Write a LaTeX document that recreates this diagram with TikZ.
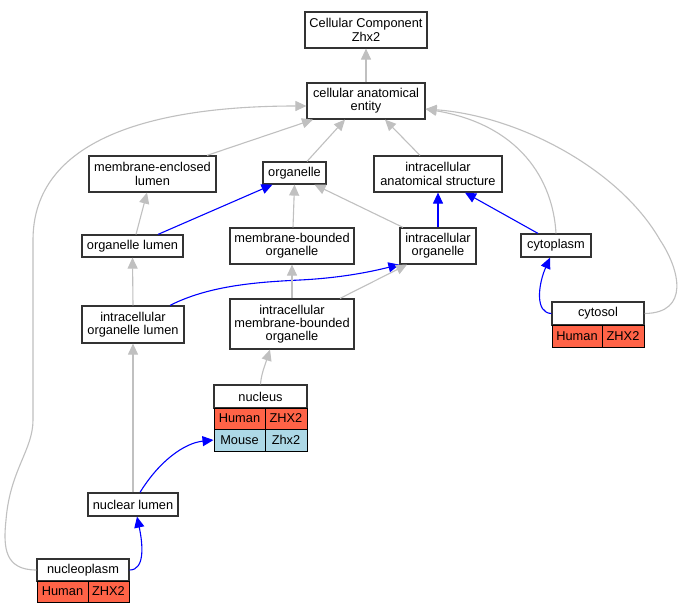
\documentclass[tikz,border=0pt]{standalone}
\usepackage{fontspec}
\setmainfont{Liberation Sans}
\usetikzlibrary{arrows.meta,calc}
\definecolor{eg}{HTML}{C0C0C0}
\definecolor{eb}{HTML}{0000FF}
\definecolor{hum}{HTML}{FF6347}
\definecolor{mou}{HTML}{ADD8E6}
\newcommand\gofont{\fontsize{12.8}{13.3}\selectfont}
\begin{document}
\begin{tikzpicture}[x=1pt,y=-1pt,
  box/.style={draw=black!80,line width=1.2pt,fill=white,inner sep=0pt,align=center,font=\gofont},
  cell/.style={draw=black,line width=1pt,inner sep=0pt,font=\gofont},
  g/.style={draw=eg,line width=1.1pt,-{Triangle[length=11pt,width=10pt]}},
  b/.style={draw=eb,line width=1.1pt,-{Triangle[length=11pt,width=10pt]}}]
\useasboundingbox[fill=white] (0,0) rectangle (682,613);
% nodes
\node[box,minimum width=122pt,minimum height=36pt] (ccz) at (366,30) {Cellular Component\\Zhx2};
\node[box,minimum width=118pt,minimum height=36pt] (cae) at (366,101) {cellular anatomical\\entity};
\node[box,minimum width=127pt,minimum height=36pt] (mel) at (152.5,174) {membrane-enclosed\\lumen};
\node[box,minimum width=63pt,minimum height=22pt] (org) at (294.5,173) {organelle};
\node[box,minimum width=128pt,minimum height=36pt] (ias) at (438,174) {intracellular\\anatomical structure};
\node[box,minimum width=101pt,minimum height=22pt] (ol) at (132.5,246) {organelle lumen};
\node[box,minimum width=124pt,minimum height=36pt] (mbo) at (292,246) {membrane-bounded\\organelle};
\node[box,minimum width=76pt,minimum height=36pt] (io) at (438,246) {intracellular\\organelle};
\node[box,minimum width=70pt,minimum height=23pt] (cyto) at (556,245.5) {cytoplasm};
\node[box,minimum width=102pt,minimum height=37pt] (iol) at (133,324.5) {intracellular\\organelle lumen};
\node[box,minimum width=124pt,minimum height=50pt] (imbo) at (292,324) {intracellular\\membrane-bounded\\organelle};
\node[box,minimum width=90pt,minimum height=23pt] (nl) at (133,504.5) {nuclear lumen};
% nucleus table
\node[box,minimum width=93pt,minimum height=23pt] (nucleus) at (260.5,396.5) {nucleus};
\node[cell,fill=hum,minimum width=51pt,minimum height=21pt] (nh1) at (239.5,418.5) {Human};
\node[cell,fill=hum,minimum width=42pt,minimum height=21pt] (nh2) at (286,418.5) {ZHX2};
\node[cell,fill=mou,minimum width=51pt,minimum height=22pt] (nm1) at (239.5,440) {Mouse};
\node[cell,fill=mou,minimum width=42pt,minimum height=22pt] (nm2) at (286,440) {Zhx2};
% cytosol table
\node[box,minimum width=92pt,minimum height=23pt] (cytosol) at (598,313.5) {cytosol};
\node[cell,fill=hum,minimum width=50pt,minimum height=22pt] (ch1) at (577,336) {Human};
\node[cell,fill=hum,minimum width=42pt,minimum height=22pt] (ch2) at (623,336) {ZHX2};
% nucleoplasm table
\node[box,minimum width=92pt,minimum height=22pt] (np) at (83,570) {nucleoplasm};
\node[cell,fill=hum,minimum width=51pt,minimum height=21pt] (nph1) at (62.5,591.5) {Human};
\node[cell,fill=hum,minimum width=41pt,minimum height=21pt] (nph2) at (108.5,591.5) {ZHX2};
% edges
\draw[g] (cae.north) -- (ccz.south);
\draw[g] ([xshift=54.5pt]mel.north) -- ([xshift=-53pt]cae.south);
\draw[g] ([xshift=12.5pt]org.north) -- ([xshift=-21pt]cae.south);
\draw[g] ([xshift=-18pt]ias.north) -- ([xshift=19pt]cae.south);
\draw[g] (cyto.north) .. controls (553,180) and (520,125) .. ([yshift=-8pt]cae.east);
\draw[g] (cytosol.east) .. controls (690,313) and (680,270) .. (660,240) .. controls (620,170) and (520,116) .. ([yshift=-8pt]cae.east);
\draw[g] (np.west) .. controls (5,570) and (3,548) .. (6,520) .. controls (10,470) and (33,450) .. (33,420) -- (33,240) .. controls (33,140) and (150,106) .. ([yshift=-5pt]cae.west);
\draw[g] ([xshift=3.5pt]ol.north) -- ([xshift=-5.5pt]mel.south);
\draw[b] ([xshift=25.5pt]ol.north) -- ([xshift=-22pt]org.south);
\draw[g] ([xshift=1pt]mbo.north) -- (org.south);
\draw[g] ([xshift=-35pt]io.north) -- ([xshift=20pt]org.south);
\draw[b] (io.north) -- (ias.south);
\draw[b] ([xshift=-18pt]cyto.north) -- ([xshift=27pt]ias.south);
\draw[b] (cytosol.west) .. controls (535,313) and (538,285) .. ([xshift=-6pt]cyto.south);
\draw[g] (iol.north) -- (ol.south);
\draw[b] ([xshift=37pt]iol.north) .. controls (210,285) and (260,282) .. (300,280) .. controls (340,278) and (370,272) .. (io.south west);
\draw[g] (imbo.north) -- (mbo.south);
\draw[g] ([xshift=48pt]imbo.north) -- ([xshift=-31pt]io.south);
\draw[g] (nucleus.north) .. controls (261,375) and (265,365) .. ([xshift=-22pt]imbo.south);
\draw[b] ([xshift=7pt]nl.north) .. controls (160,460) and (185,443) .. (nm1.west);
\draw[g] (nl.north) -- (iol.south);
\draw[b] (np.east) .. controls (145,570) and (143,545) .. ([xshift=4pt]nl.south);
\end{tikzpicture}
\end{document}
